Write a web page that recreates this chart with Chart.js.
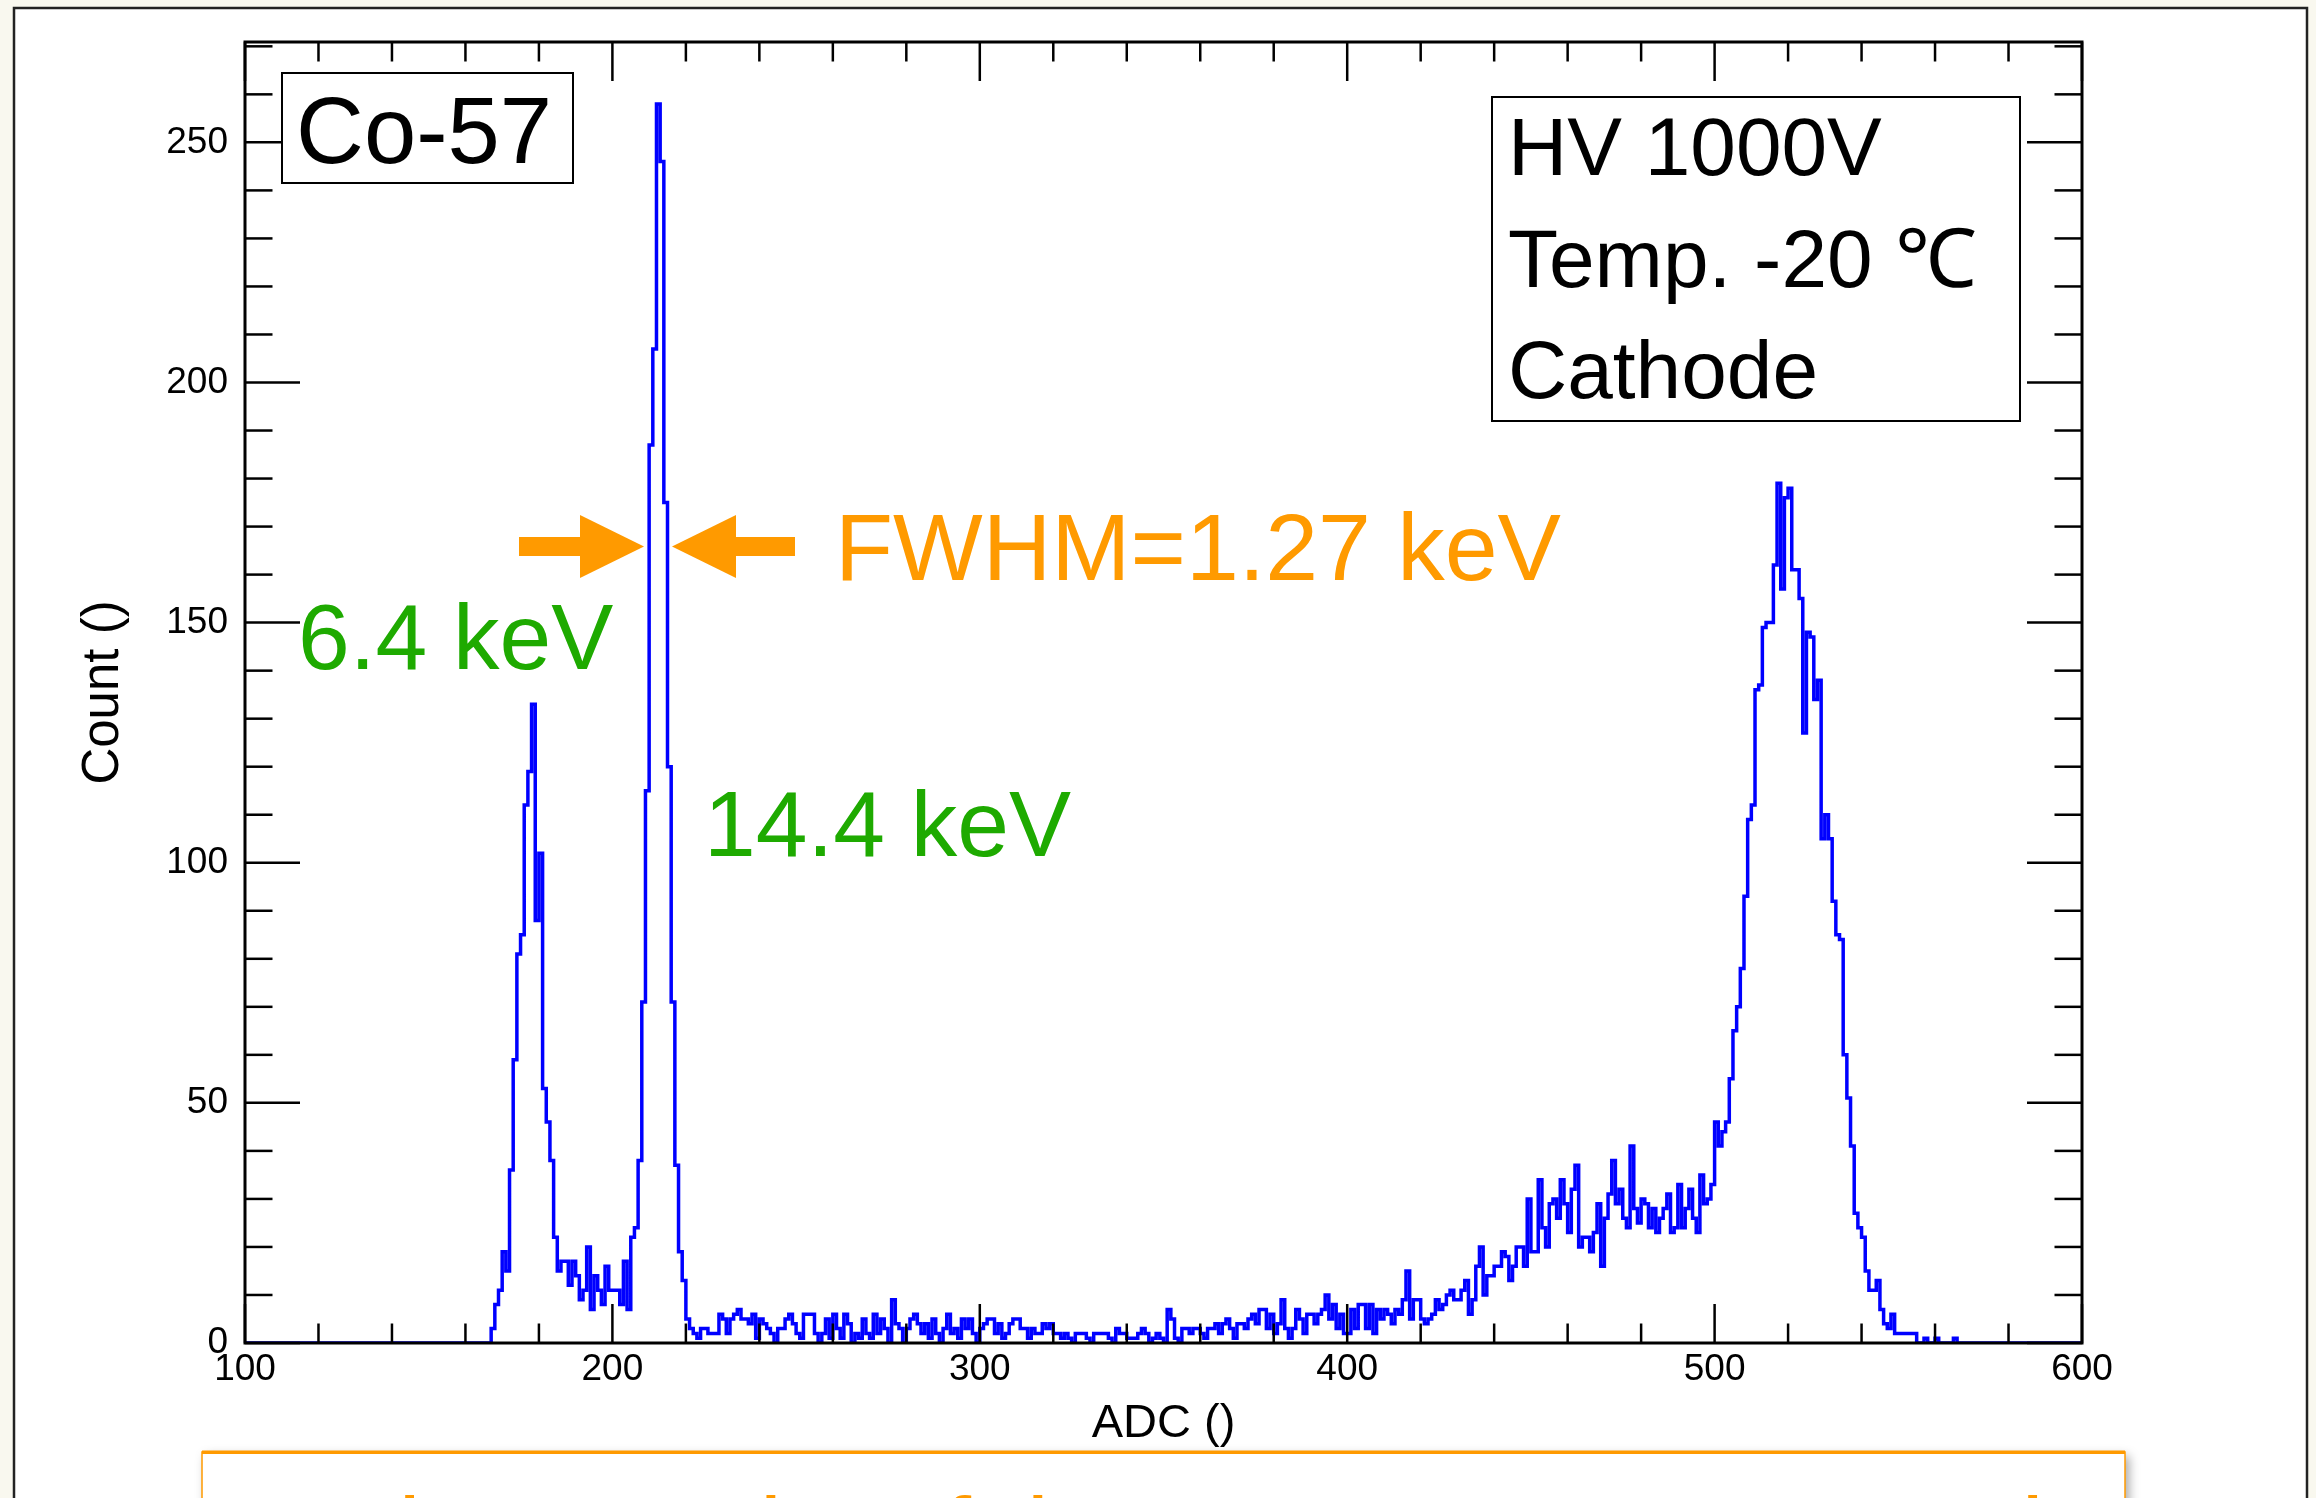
<!DOCTYPE html>
<html>
<head>
<meta charset="utf-8">
<script src="https://cdn.jsdelivr.net/npm/chart.js@4.4.0/dist/chart.umd.min.js"></script>
<style>
  html, body { margin: 0; padding: 0; background: #F9F8EF; overflow: hidden; }
  #wrap { position: relative; width: 2316px; height: 1498px; }
  canvas { display: block; }
</style>
</head>
<body>
<div id="wrap"><canvas id="spectrum" width="2316" height="1498"></canvas></div>
<script>
// Co-57 spectrum, cathode readout, 1 ADC channel per bin
const ADC_MIN = 100;
const ADC_MAX = 600;
const BIN_WIDTH = 1;

// counts per bin, ADC 100-199
const counts100 = [
  0,0,0,0,0,0,0,0,0,0,
  0,0,0,0,0,0,0,0,0,0,
  0,0,0,0,0,0,0,0,0,0,
  0,0,0,0,0,0,0,0,0,0,
  0,0,0,0,0,0,0,0,0,0,
  0,0,0,0,0,0,0,0,0,0,
  0,0,0,0,0,0,0,3,8,11,
  19,15,36,59,81,85,112,119,133,88,
  102,53,46,38,22,15,17,17,12,17,
  14,9,11,20,7,14,11,8,16,11
];
// ADC 200-299
const counts200 = [
  11,11,8,17,7,22,24,38,71,115,
  187,207,258,246,175,120,71,37,19,13,
  5,3,2,1,3,3,2,2,2,6,
  5,2,5,6,7,5,5,4,6,1,
  5,4,3,2,0,3,3,5,6,4,
  2,1,6,6,6,2,0,2,5,1,
  6,3,1,6,4,0,2,1,5,2,
  1,6,2,5,3,0,9,4,3,0,
  3,5,6,4,2,4,1,5,2,0,
  3,6,2,3,1,5,3,5,2,0
];
// ADC 300-399
const counts300 = [
  3,4,5,5,2,4,1,2,4,5,
  5,3,3,1,3,2,2,4,3,4,
  2,2,1,2,1,0,2,2,2,1,
  0,2,2,2,2,1,0,3,2,2,
  1,1,1,2,3,2,0,1,2,1,
  0,7,5,1,0,3,3,2,3,3,
  2,1,3,3,4,2,4,5,3,1,
  4,4,3,5,6,4,7,7,3,6,
  2,4,9,3,1,3,7,5,2,6,
  6,4,6,7,10,5,8,3,6,2
];
// ADC 400-499
const counts400 = [
  2,7,3,8,8,3,8,2,7,5,
  7,6,4,7,6,9,15,5,9,9,
  5,4,5,6,9,7,8,10,11,9,
  9,11,13,6,9,16,20,10,14,14,
  16,16,19,18,13,16,20,20,16,30,
  19,19,34,24,20,29,30,26,34,29,
  23,32,37,20,22,22,19,23,29,16,
  26,31,38,29,32,26,24,41,28,25,
  30,29,24,28,23,26,28,31,23,24,
  33,24,28,32,26,23,35,29,30,33
];
// ADC 500-599
const counts500 = [
  46,41,44,46,55,65,70,78,93,109,
  112,136,137,149,150,150,162,179,157,176,
  178,161,161,155,127,148,147,134,138,105,
  110,105,92,85,84,60,51,41,27,24,
  22,15,11,11,13,7,4,3,6,2,
  2,2,2,2,2,0,0,1,0,0,
  1,0,0,0,0,1,0,0,0,0,
  0,0,0,0,0,0,0,0,0,0,
  0,0,0,0,0,0,0,0,0,0,
  0,0,0,0,0,0,0,0,0,0
];

// axis labelling
const xTickValues = [100, 200, 300, 400, 500, 600];
const yTickValues = [0, 50, 100, 150, 200, 250];
const X_MINOR_STEP = 20;
const Y_MINOR_STEP = 10;
const Y_MAX = 270.9;
const X_TITLE = 'ADC ()';
const Y_TITLE = 'Count ()';

// annotation texts
const sourceLabel = 'Co-57';
const conditionLines = ['HV 1000V', 'Temp. -20 \u2103', 'Cathode'];
const peakLow = '6.4 keV';
const peakHigh = '14.4 keV';
const fwhmLabel = 'FWHM=1.27 keV';
const noteText = '\u25CF Clear peaks of the Co-57 source are observed';

const ORANGE = '#FF9A00';
const GREEN = '#1EAA00';
const HIST_BLUE = '#0000FF';

const allCounts = [].concat(counts100, counts200, counts300, counts400, counts500);
// bin low edges, plus the closing upper edge of the last bin
const histPoints = allCounts.map((c, i) => ({ x: ADC_MIN + i * BIN_WIDTH, y: c }));
histPoints.push({ x: ADC_MAX, y: allCounts[allCounts.length - 1] });

const AXIS_FONT = '"Liberation Sans", Arial, Helvetica, sans-serif';

function line(ctx, x1, y1, x2, y2) {
  ctx.beginPath(); ctx.moveTo(x1, y1); ctx.lineTo(x2, y2); ctx.stroke();
}

const pagePlugin = {
  id: 'page',
  beforeDraw(chart) {
    const ctx = chart.ctx;
    ctx.save();
    ctx.fillStyle = '#F9F8EF';
    ctx.fillRect(0, 0, chart.width, chart.height);
    ctx.fillStyle = '#FFFFFF';
    ctx.fillRect(14, 8, 2293, 1530);
    ctx.strokeStyle = '#222222';
    ctx.lineWidth = 2.5;
    ctx.strokeRect(14, 8, 2293, 1530);
    ctx.restore();
  },
  afterDraw(chart) {
    const ctx = chart.ctx;
    const a = chart.chartArea;
    const xs = chart.scales.x, ys = chart.scales.y;
    ctx.save();

    // tick marks inside the frame, on all four sides
    ctx.strokeStyle = '#000';
    ctx.lineWidth = 2.5;
    for (let v = ADC_MIN; v <= ADC_MAX; v += X_MINOR_STEP) {
      const px = xs.getPixelForValue(v);
      const len = xTickValues.includes(v) ? 39 : 19.5;
      line(ctx, px, a.bottom, px, a.bottom - len);
      line(ctx, px, a.top, px, a.top + len);
    }
    for (let v = 0; v <= Y_MAX; v += Y_MINOR_STEP) {
      const py = ys.getPixelForValue(v);
      const len = yTickValues.includes(v) ? 55 : 27.5;
      line(ctx, a.left, py, a.left + len, py);
      line(ctx, a.right, py, a.right - len, py);
    }
    ctx.lineWidth = 3;
    ctx.strokeRect(a.left, a.top, a.right - a.left, a.bottom - a.top);

    // axis titles
    ctx.fillStyle = '#000';
    ctx.textAlign = 'center';
    ctx.textBaseline = 'alphabetic';
    ctx.font = '47px ' + AXIS_FONT;
    ctx.fillText(X_TITLE, (a.left + a.right) / 2, 1437);
    ctx.save();
    ctx.font = '51px ' + AXIS_FONT;
    ctx.translate(118, (a.top + a.bottom) / 2);
    ctx.rotate(-Math.PI / 2);
    ctx.fillText(Y_TITLE, 0, 0);
    ctx.restore();

    // source label box
    ctx.textAlign = 'left';
    ctx.fillStyle = '#FFF';
    ctx.fillRect(282, 73, 291, 110);
    ctx.strokeStyle = '#000';
    ctx.lineWidth = 2;
    ctx.strokeRect(282, 73, 291, 110);
    ctx.fillStyle = '#000';
    ctx.font = '94px ' + AXIS_FONT;
    ctx.fillText(sourceLabel, 296, 163);

    // run conditions box
    ctx.fillStyle = '#FFF';
    ctx.fillRect(1492, 97, 528, 324);
    ctx.strokeRect(1492, 97, 528, 324);
    ctx.fillStyle = '#000';
    ctx.font = '82px ' + AXIS_FONT;
    conditionLines.forEach((t, i) => ctx.fillText(t, 1508, 175 + i * 111.5));

    // peak labels
    ctx.fillStyle = GREEN;
    ctx.font = '93px ' + AXIS_FONT;
    ctx.fillText(peakLow, 298, 669);
    ctx.fillText(peakHigh, 704, 856);

    // FWHM arrows and label
    ctx.fillStyle = ORANGE;
    const ay = 546.5;
    ctx.fillRect(519, ay - 9.5, 63, 19);
    ctx.beginPath();
    ctx.moveTo(580, ay - 31.5); ctx.lineTo(644, ay); ctx.lineTo(580, ay + 31.5); ctx.closePath();
    ctx.fill();
    ctx.fillRect(733, ay - 9.5, 62, 19);
    ctx.beginPath();
    ctx.moveTo(736, ay - 31.5); ctx.lineTo(672, ay); ctx.lineTo(736, ay + 31.5); ctx.closePath();
    ctx.fill();
    ctx.font = '95px ' + AXIS_FONT;
    ctx.fillText(fwhmLabel, 835, 580);

    // note box at the bottom of the slide
    ctx.save();
    ctx.shadowColor = 'rgba(0,0,0,0.35)';
    ctx.shadowBlur = 10;
    ctx.shadowOffsetX = 4;
    ctx.shadowOffsetY = 4;
    ctx.fillStyle = '#FFF';
    ctx.fillRect(202, 1452, 1923, 200);
    ctx.restore();
    ctx.strokeStyle = ORANGE;
    ctx.lineWidth = 1.5;
    ctx.strokeRect(202, 1452, 1923, 200);
    ctx.fillStyle = ORANGE;
    ctx.fillRect(202, 1450.5, 1923, 3.5);
    ctx.font = '100px ' + AXIS_FONT;
    ctx.fillText(noteText, 238, 1568);

    ctx.restore();
  }
};

new Chart(document.getElementById('spectrum'), {
  type: 'line',
  data: {
    datasets: [{
      data: histPoints,
      borderColor: HIST_BLUE,
      borderWidth: 3.5,
      pointRadius: 0,
      fill: false,
      stepped: true,
      tension: 0
    }]
  },
  options: {
    responsive: false,
    devicePixelRatio: 1,
    animation: false,
    events: [],
    layout: { padding: { top: 42, right: 234, left: 0, bottom: 0 } },
    plugins: { legend: { display: false }, tooltip: { enabled: false } },
    scales: {
      x: {
        type: 'linear',
        min: ADC_MIN,
        max: ADC_MAX,
        afterBuildTicks: s => { s.ticks = xTickValues.map(v => ({ value: v })); },
        afterFit: s => { s.height = 155; },
        ticks: {
          color: '#000',
          font: { family: AXIS_FONT, size: 37 },
          padding: 5,
          maxRotation: 0,
          autoSkip: false
        },
        grid: { display: false, drawTicks: false },
        border: { display: false }
      },
      y: {
        type: 'linear',
        min: 0,
        max: Y_MAX,
        afterBuildTicks: s => { s.ticks = yTickValues.map(v => ({ value: v })); },
        afterFit: s => { s.width = 245; },
        ticks: {
          color: '#000',
          font: { family: AXIS_FONT, size: 37 },
          padding: 17,
          autoSkip: false
        },
        grid: { display: false, drawTicks: false },
        border: { display: false }
      }
    }
  },
  plugins: [pagePlugin]
});
</script>
</body>
</html>
